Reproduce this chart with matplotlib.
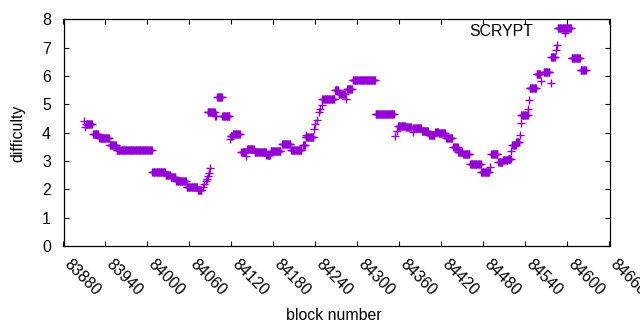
import numpy as np
import matplotlib
matplotlib.use("Agg")
import matplotlib.pyplot as plt

plt.rcParams['font.family'] = ['Liberation Sans', 'DejaVu Sans']

# Runs of constant difficulty: first block, last block, difficulty
run_start = [83910, 83911, 83912, 83922, 83931, 83946, 83956, 84007, 84026, 84033,
             84041, 84056, 84072, 84079, 84081, 84083, 84085, 84087, 84088, 84089,
             84086, 84097, 84100, 84107, 84118, 84119, 84122, 84134, 84141, 84142,
             84153, 84170, 84176, 84192, 84205, 84222, 84226, 84227, 84238, 84240,
             84242, 84245, 84247, 84249, 84250, 84268, 84273, 84283, 84285, 84293,
             84326, 84353, 84356, 84358, 84369, 84379, 84380, 84392, 84402, 84411,
             84416, 84427, 84437, 84444, 84451, 84461, 84477, 84489, 84491, 84501,
             84508, 84515, 84520, 84521, 84527, 84532, 84533, 84534, 84544, 84545,
             84546, 84556, 84562, 84566, 84576, 84577, 84583, 84585, 84586, 84596,
             84606, 84619]
run_end = [83910, 83911, 83921, 83930, 83945, 83955, 84006, 84025, 84032, 84040,
           84055, 84071, 84077, 84079, 84081, 84083, 84085, 84087, 84088, 84089,
           84096, 84098, 84106, 84117, 84118, 84121, 84132, 84140, 84141, 84152,
           84169, 84175, 84190, 84204, 84220, 84225, 84237, 84227, 84238, 84240,
           84242, 84245, 84247, 84249, 84267, 84272, 84282, 84283, 84292, 84325,
           84352, 84353, 84356, 84368, 84377, 84379, 84391, 84401, 84410, 84415,
           84425, 84435, 84443, 84450, 84460, 84476, 84488, 84489, 84500, 84507,
           84514, 84519, 84520, 84526, 84531, 84532, 84533, 84543, 84544, 84545,
           84555, 84561, 84562, 84574, 84576, 84582, 84583, 84585, 84605, 84596,
           84618, 84626]
run_value = [4.42, 4.19, 4.30, 3.96, 3.82, 3.57, 3.40, 2.62, 2.50, 2.42,
             2.31, 2.07, 1.97, 2.07, 2.19, 2.28, 2.37, 2.47, 2.57, 2.74,
             4.72, 4.57, 5.27, 4.60, 3.79, 3.88, 3.97, 3.32, 3.19, 3.43,
             3.31, 3.22, 3.37, 3.60, 3.40, 3.58, 3.83, 3.90, 4.13, 4.31,
             4.43, 4.72, 4.85, 4.97, 5.17, 5.49, 5.35, 5.19, 5.55, 5.85,
             4.67, 3.87, 4.05, 4.25, 4.19, 4.01, 4.18, 4.07, 3.93, 4.01,
             3.98, 3.80, 3.48, 3.30, 3.25, 2.90, 2.60, 2.78, 3.23, 2.96,
             3.02, 3.08, 3.37, 3.57, 3.66, 3.92, 4.34, 4.62, 4.85, 5.14,
             5.59, 6.07, 5.84, 6.13, 5.75, 6.68, 6.90, 7.08, 7.71, 7.52,
             6.64, 6.20]

series_label = "SCRYPT"
x_ticks = list(range(83880, 84661, 60))
y_ticks = list(range(0, 9))

blocks = []
values = []
for s, e, v in zip(run_start, run_end, run_value):
    for b in range(s, e + 1):
        blocks.append(b)
        values.append(v)

FS = 11.4

fig = plt.figure(figsize=(6.4, 3.3), dpi=100)
ax = fig.add_axes([63.5 / 640, 84 / 330, 546 / 640, 226.7 / 330])

ax.plot(blocks, values, linestyle='none', marker='+', color='#9400D3',
        markersize=5.4, markeredgewidth=1.0)

ax.set_xlim(83880, 84660)
ax.set_ylim(0, 8)
ax.set_xticks(x_ticks)
ax.set_yticks(y_ticks)
ax.set_xticklabels([str(t) for t in x_ticks], rotation=-45, ha='left', va='baseline',
                   rotation_mode='anchor', fontsize=FS)
ax.set_yticklabels([str(t) for t in y_ticks], fontsize=FS)
ax.tick_params(axis='both', direction='in', length=3.5, width=0.8,
               top=True, right=True, labeltop=False, labelright=False)
ax.tick_params(axis='y', pad=9)
ax.tick_params(axis='x', pad=14)
for sp in ax.spines.values():
    sp.set_linewidth(0.9)

fig.text(334 / 640, 1 - 315 / 330, "block number", ha='center', va='center', fontsize=FS)
fig.text(17.5 / 640, 1 - 133 / 330, "difficulty", ha='center', va='center',
         rotation=90, fontsize=FS)
fig.text(533 / 640, 1 - 31.5 / 330, series_label, fontsize=FS, ha='right', va='center')

fig.savefig("out.png", dpi=100)
